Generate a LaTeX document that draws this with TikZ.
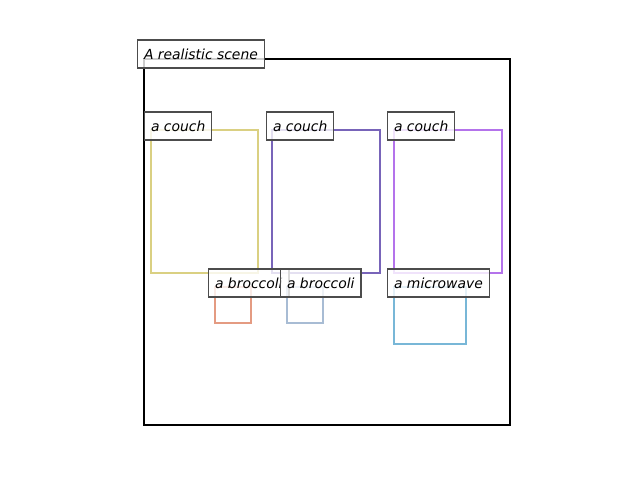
\documentclass[tikz,border=0pt]{standalone}
\usepackage{fontspec}
\newfontfamily\lblfont{DejaVu Sans}
\definecolor{cyel}{RGB}{218,208,130}
\definecolor{cpur}{RGB}{120,100,185}
\definecolor{clpur}{RGB}{180,115,235}
\definecolor{csal}{RGB}{228,155,130}
\definecolor{cgb}{RGB}{168,188,212}
\definecolor{cblu}{RGB}{120,183,215}
\tikzset{
  lbl/.style={draw=black!70, line width=1.1pt, fill=white, fill opacity=0.8, text opacity=1,
    anchor=west, inner xsep=6.5pt, inner ysep=0pt, minimum height=28pt,
    font=\lblfont\itshape\fontsize{13.9}{16}\selectfont},
  obox/.style={line width=2.5pt},
}
\begin{document}
\begin{tikzpicture}[x=1pt,y=-1pt]
\useasboundingbox (0,0) rectangle (640,480);
\draw[line width=2.5pt, black] (144,59) rectangle (510,425);
\node[lbl] (scene) at (137,54) {A realistic scene};
\draw[obox, cyel] (151,130) rectangle (258,273);
\node[lbl] (c1) at (144,126) {a couch};
\draw[obox, cpur] (272,130) rectangle (380,273);
\node[lbl] (c2) at (266,126) {a couch};
\draw[obox, clpur] (394,130) rectangle (502,273);
\node[lbl] (c3) at (387,126) {a couch};
\draw[obox, csal] (215,287) rectangle (251,323);
\node[lbl] (b1) at (208,283) {a broccoli};
\draw[obox, cgb] (287,287) rectangle (323,323);
\node[lbl] (b2) at (280,283) {a broccoli};
\draw[obox, cblu] (394,287) rectangle (466,344);
\node[lbl] (m1) at (387,283) {a microwave};
\end{tikzpicture}
\end{document}
